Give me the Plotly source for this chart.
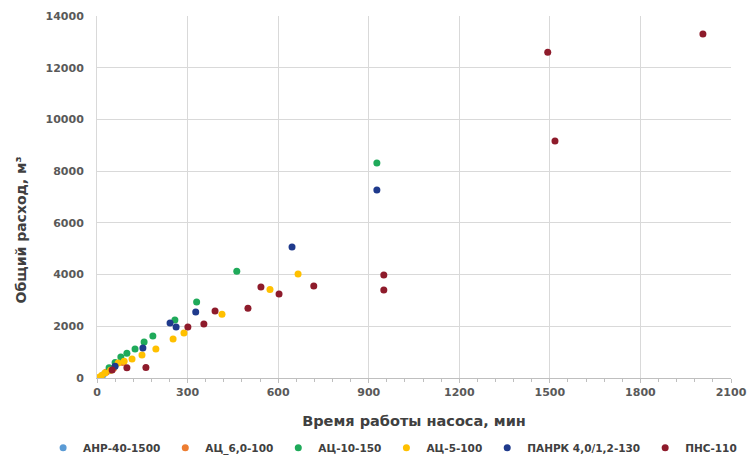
import plotly.graph_objects as go

# Series data: (time, min) and (total flow, m3)
anr_x = [20, 40]
anr_y = [120, 280]

ac6_x = [30, 55, 85]
ac6_y = [220, 380, 600]

ac10_x = [927, 463, 330, 258, 185, 156, 126, 99, 79, 60, 40]
ac10_y = [8314, 4130, 2940, 2240, 1620, 1390, 1120, 960, 810, 600, 400]

ac5_x = [666, 573, 414, 288, 252, 195, 149, 116, 90, 70, 45, 26, 15, 5]
ac5_y = [4022, 3420, 2470, 1740, 1510, 1120, 890, 735, 650, 580, 300, 190, 100, 20]

panrk_x = [927, 646, 327, 242, 262, 152, 60]
panrk_y = [7270, 5066, 2550, 2127, 1970, 1160, 450]

pns_x = [2007, 1493, 1517, 950, 950, 718, 543, 603, 500, 391, 354, 301, 162, 99, 50]
pns_y = [13300, 12600, 9165, 3983, 3403, 3558, 3520, 3250, 2700, 2590, 2090, 1970, 410, 400, 310]

series = [
    ("АНР-40-1500", anr_x, anr_y, "#5B9BD5"),
    ("АЦ_6,0-100", ac6_x, ac6_y, "#ED7D31"),
    ("АЦ-10-150", ac10_x, ac10_y, "#1FAA5A"),
    ("АЦ-5-100", ac5_x, ac5_y, "#FFC000"),
    ("ПАНРК 4,0/1,2-130", panrk_x, panrk_y, "#1F3A8C"),
    ("ПНС-110", pns_x, pns_y, "#8E1B2B"),
]

x_ticks = [0, 300, 600, 900, 1200, 1500, 1800, 2100]
y_ticks = [0, 2000, 4000, 6000, 8000, 10000, 12000, 14000]

FONT = "DejaVu Sans"

fig = go.Figure()
for name, xs, ys, color in series:
    fig.add_trace(go.Scatter(
        x=xs, y=ys, mode="markers", name=name,
        marker=dict(color=color, size=7, line=dict(width=0)),
    ))

fig.update_layout(
    width=755, height=468,
    margin=dict(l=97, r=24, t=16, b=90, autoexpand=False),
    paper_bgcolor="white", plot_bgcolor="white",
    font=dict(family=FONT, color="#404040"),
    showlegend=True,
    legend=dict(
        orientation="h", x=-0.085, xanchor="left", xref="paper",
        y=-0.193, yanchor="middle", yref="paper",
        font=dict(family=FONT, size=10.5, color="#404040", weight="bold"),
        itemwidth=30, tracegroupgap=0,
    ),
    xaxis=dict(
        range=[0, 2100], tickvals=x_ticks, ticktext=[str(v) for v in x_ticks],
        showgrid=True, gridcolor="#D9D9D9", gridwidth=1,
        showline=True, linecolor="#BFBFBF", linewidth=1,
        zeroline=False,
        ticks="outside", ticklen=4, tickcolor="#BFBFBF",
        minor=dict(dtick=60, ticks="outside", ticklen=3, tickcolor="#BFBFBF", showgrid=False),
        tickfont=dict(family=FONT, size=11, color="#595959", weight="bold"),
        title=dict(text="Время работы насоса, мин", standoff=17,
                   font=dict(family=FONT, size=14.5, color="#404040", weight="bold")),
        fixedrange=True,
    ),
    yaxis=dict(
        range=[0, 14000], tickvals=y_ticks, ticktext=[str(v) for v in y_ticks],
        showgrid=True, gridcolor="#D9D9D9", gridwidth=1,
        showline=True, linecolor="#D9D9D9", linewidth=1,
        zeroline=False, ticks="",
        ticklabelstandoff=10,
        tickfont=dict(family=FONT, size=11, color="#595959", weight="bold"),
        fixedrange=True,
    ),
)

fig.add_annotation(
    text="Общий расход, м³", textangle=-90,
    xref="paper", yref="paper", x=-0.12, y=0.41,
    xanchor="center", yanchor="middle", showarrow=False,
    font=dict(family=FONT, size=14, color="#404040", weight="bold"),
)

fig.write_html("out.html")
